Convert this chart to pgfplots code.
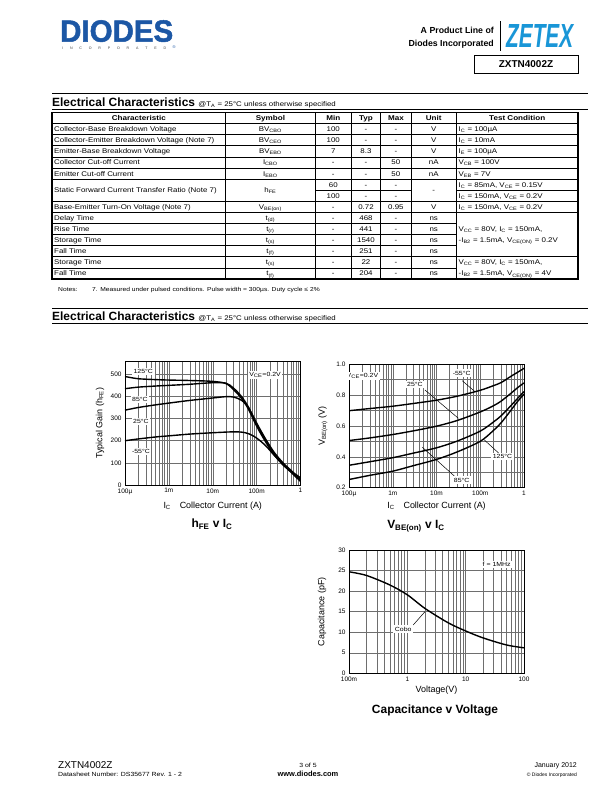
\documentclass[border=0pt]{standalone}
\usepackage{fontspec}
\setmainfont{Liberation Sans}
\newfontfamily\wide[FakeStretch=1.16]{Liberation Sans}
\newfontfamily\heavy[BoldFeatures={FakeBold=1.6}]{Liberation Sans}
\usepackage{graphicx}
\usepackage{pgfplots}
\pgfplotsset{compat=1.18}
\definecolor{diodesblue}{RGB}{28,87,165}
\definecolor{zetexblue}{RGB}{25,150,215}
\definecolor{gridgray}{RGB}{110,110,110}
\newcommand\fs[1]{\fontsize{#1}{#1}\selectfont}
\newcommand\tbl{\wide\fontsize{6.85}{7}\selectfont}
\newcommand\tbh{\wide\fontsize{7}{7}\selectfont\bfseries}
\pgfplotsset{
  dsaxis/.style={
    scale only axis,
    axis line style={line width=0.8pt},
    grid=both,
    major grid style={gridgray,line width=0.45pt},
    minor grid style={gridgray,line width=0.45pt},
    major tick length=0pt, minor tick length=0pt,
    tick label style={font=\fs{6.5}},
    /pgf/number format/assume math mode=true,
    label style={font=\fs{9}},
    clip=true,
  },
  crv/.style={black, line width=1.4pt, smooth, no markers},
}
\tikzset{lbl/.style={font=\wide\fs{6}, fill=white, inner sep=1.6bp}}
\pgfplotstableread{
x h125 h85 h25 hm55
1e-4 490 435 338 200
2e-4 480 442 350 208
5e-4 476 447 362 217
1e-3 474 450 370 222
3e-3 472 455 382 230
1e-2 468 462 393 236
0.02 458 460 399 239
0.03 430 437 397 240
0.045 392 400 383 239
0.065 343 352 350 232
0.1 266 275 280 212
0.16 195 202 208 178
0.25 137 143 148 135
0.4 91 96 100 92
0.63 57 61 63 55
1 28 33 22 16
}\hfetable
\pgfplotstableread{
x vm55 v25 v85 v125
1e-4 0.698 0.505 0.345 0.253
3e-4 0.712 0.522 0.368 0.280
1e-3 0.727 0.544 0.394 0.307
3e-3 0.745 0.568 0.424 0.343
1e-2 0.766 0.598 0.458 0.383
3e-2 0.792 0.635 0.502 0.432
0.1 0.830 0.690 0.566 0.500
0.2 0.860 0.730 0.625 0.570
0.3 0.880 0.760 0.665 0.620
0.5 0.920 0.810 0.730 0.700
0.7 0.945 0.845 0.775 0.755
1 0.972 0.878 0.822 0.805
}\vbetable
\pgfplotstableread{
v c
0.1 24.7
0.2 23.8
0.5 21.5
1 19.1
2 15.8
5 12.3
10 10.3
20 8.6
50 6.9
100 6.2
}\captable
\begin{document}
\begin{tikzpicture}
\path[use as bounding box, fill=white] (0,0) rectangle (612bp,-792bp);
\begin{scope}[x=1bp,y=-1bp]
% ---------- header ----------
\node[anchor=north west, inner sep=0] at (60,20) {\resizebox{113bp}{21.5bp}{\color{diodesblue}\heavy\bfseries DIODES}};
\node[anchor=base west, inner sep=0] at (62,49) {\makebox[104bp][s]{\fs{3.6}\color{black!75}I N C O R P O R A T E D}};
\node[anchor=center, inner sep=0] at (174,47) {\fs{4}\color{diodesblue}®};
\node[anchor=base east, inner sep=0] at (494,33) {\fs{8.8}\bfseries A Product Line of};
\node[anchor=base east, inner sep=0] at (494,46) {\fs{8.8}\bfseries Diodes Incorporated};
\draw[line width=0.6pt] (500,21) -- (500,51);
\node[anchor=north west, inner sep=0] at (506,24) {\resizebox{67bp}{23bp}{\color{zetexblue}\heavy\bfseries\itshape ZETEX}};
\draw[line width=1pt] (474,55.5) rectangle (578,73);
\node[anchor=mid, inner sep=0] at (526,64.5) {\fs{10}\bfseries ZXTN4002Z};
% ---------- section heading 1 ----------
\draw[line width=0.9pt] (52,93.5) -- (588,93.5);
\draw[line width=0.9pt] (52,109.5) -- (588,109.5);
\node[anchor=base west, inner sep=0] at (52,106.3) {\fs{12}\bfseries Electrical Characteristics \wide\mdseries\fs{6.8}@T\textsubscript{A} = 25°C unless otherwise specified};
% ---------- table ----------
\draw[line width=1.6pt] (52,112.4) rectangle (578,278.9);
\draw[line width=1.2pt] (52,123.5) -- (578,123.5);
\foreach \y in {134.6,145.7,156.8,167.9,179.0,201.2,212.3,256.7}
  \draw[line width=0.5pt] (52,\y) -- (578,\y);
\draw[line width=0.5pt] (315.2,190.1) -- (411,190.1);
\draw[line width=0.5pt] (456.4,190.1) -- (578,190.1);
\foreach \y in {223.4,234.5,245.6,267.8}
  \draw[line width=0.5pt] (52,\y) -- (456.4,\y);
\foreach \x in {225.6,315.2,351.4,380.7,411,456.4}
  \draw[line width=0.5pt] (\x,112.4) -- (\x,278.9);
% header row
\node[anchor=mid, font=\tbh] at (138.8,117.95) {Characteristic};
\node[anchor=mid, font=\tbh] at (270.4,117.95) {Symbol};
\node[anchor=mid, font=\tbh] at (333.3,117.95) {Min};
\node[anchor=mid, font=\tbh] at (366,117.95) {Typ};
\node[anchor=mid, font=\tbh] at (395.9,117.95) {Max};
\node[anchor=mid, font=\tbh] at (433.7,117.95) {Unit};
\node[anchor=mid, font=\tbh] at (517.2,117.95) {Test Condition};
% col 0
\begin{scope}[every node/.style={anchor=mid west, font=\tbl, inner sep=0}]
\node at (54,129.05) {Collector-Base Breakdown Voltage};
\node at (54,140.15) {Collector-Emitter Breakdown Voltage (Note 7)};
\node at (54,151.25) {Emitter-Base Breakdown Voltage};
\node at (54,162.35) {Collector Cut-off Current};
\node at (54,173.45) {Emitter Cut-off Current};
\node at (54,190.1) {Static Forward Current Transfer Ratio (Note 7)};
\node at (54,206.75) {Base-Emitter Turn-On Voltage (Note 7)};
\node at (54,217.85) {Delay Time};
\node at (54,228.95) {Rise Time};
\node at (54,240.05) {Storage Time};
\node at (54,251.15) {Fall Time};
\node at (54,262.25) {Storage Time};
\node at (54,273.35) {Fall Time};
% test condition
\node at (458.5,129.05) {I\textsubscript{C} = 100µA};
\node at (458.5,140.15) {I\textsubscript{C} = 10mA};
\node at (458.5,151.25) {I\textsubscript{E} = 100µA};
\node at (458.5,162.35) {V\textsubscript{CB} = 100V};
\node at (458.5,173.45) {V\textsubscript{EB} = 7V};
\node at (458.5,184.55) {I\textsubscript{C} = 85mA, V\textsubscript{CE} = 0.15V};
\node at (458.5,195.65) {I\textsubscript{C} = 150mA, V\textsubscript{CE} = 0.2V};
\node at (458.5,206.75) {I\textsubscript{C} = 150mA, V\textsubscript{CE} = 0.2V};
\node at (458.5,228.95) {V\textsubscript{CC} = 80V, I\textsubscript{C} = 150mA,};
\node at (458.5,240.05) {-I\textsubscript{B2} = 1.5mA, V\textsubscript{CE(ON)} = 0.2V};
\node at (458.5,262.25) {V\textsubscript{CC} = 80V, I\textsubscript{C} = 150mA,};
\node at (458.5,273.35) {-I\textsubscript{B2} = 1.5mA, V\textsubscript{CE(ON)} = 4V};
\end{scope}
\begin{scope}[every node/.style={anchor=mid, font=\tbl, inner sep=0}]
% symbols
\node at (270.4,129.05) {BV\textsubscript{CBO}};
\node at (270.4,140.15) {BV\textsubscript{CEO}};
\node at (270.4,151.25) {BV\textsubscript{EBO}};
\node at (270.4,162.35) {I\textsubscript{CBO}};
\node at (270.4,173.45) {I\textsubscript{EBO}};
\node at (270.4,190.1) {h\textsubscript{FE}};
\node at (270.4,206.75) {V\textsubscript{BE(on)}};
\node at (270.4,217.85) {t\textsubscript{(d)}};
\node at (270.4,228.95) {t\textsubscript{(r)}};
\node at (270.4,240.05) {t\textsubscript{(s)}};
\node at (270.4,251.15) {t\textsubscript{(f)}};
\node at (270.4,262.25) {t\textsubscript{(s)}};
\node at (270.4,273.35) {t\textsubscript{(f)}};
% min
\node at (333.3,129.05) {100};
\node at (333.3,140.15) {100};
\node at (333.3,151.25) {7};
\node at (333.3,162.35) {-};
\node at (333.3,173.45) {-};
\node at (333.3,184.55) {60};
\node at (333.3,195.65) {100};
\node at (333.3,206.75) {-};
\node at (333.3,217.85) {-};
\node at (333.3,228.95) {-};
\node at (333.3,240.05) {-};
\node at (333.3,251.15) {-};
\node at (333.3,262.25) {-};
\node at (333.3,273.35) {-};
% typ
\node at (366,129.05) {-};
\node at (366,140.15) {-};
\node at (366,151.25) {8.3};
\node at (366,162.35) {-};
\node at (366,173.45) {-};
\node at (366,184.55) {-};
\node at (366,195.65) {-};
\node at (366,206.75) {0.72};
\node at (366,217.85) {468};
\node at (366,228.95) {441};
\node at (366,240.05) {1540};
\node at (366,251.15) {251};
\node at (366,262.25) {22};
\node at (366,273.35) {204};
% max
\node at (395.9,129.05) {-};
\node at (395.9,140.15) {-};
\node at (395.9,151.25) {-};
\node at (395.9,162.35) {50};
\node at (395.9,173.45) {50};
\node at (395.9,184.55) {-};
\node at (395.9,195.65) {-};
\node at (395.9,206.75) {0.95};
\node at (395.9,217.85) {-};
\node at (395.9,228.95) {-};
\node at (395.9,240.05) {-};
\node at (395.9,251.15) {-};
\node at (395.9,262.25) {-};
\node at (395.9,273.35) {-};
% unit
\node at (433.7,129.05) {V};
\node at (433.7,140.15) {V};
\node at (433.7,151.25) {V};
\node at (433.7,162.35) {nA};
\node at (433.7,173.45) {nA};
\node at (433.7,190.1) {-};
\node at (433.7,206.75) {V};
\node at (433.7,217.85) {ns};
\node at (433.7,228.95) {ns};
\node at (433.7,240.05) {ns};
\node at (433.7,251.15) {ns};
\node at (433.7,262.25) {ns};
\node at (433.7,273.35) {ns};
\end{scope}
\node[anchor=base west, inner sep=0] at (58,291.5) {\wide\fs{5.8}Notes:};
\node[anchor=base west, inner sep=0] at (92,291.5) {\wide\fs{5.8}7. Measured under pulsed conditions. Pulse width = 300µs. Duty cycle ≤ 2\%};
% ---------- section heading 2 ----------
\draw[line width=0.9pt] (52,308.5) -- (588,308.5);
\draw[line width=0.9pt] (52,323.5) -- (588,323.5);
\node[anchor=base west, inner sep=0] at (52,320.3) {\fs{12}\bfseries Electrical Characteristics \wide\mdseries\fs{6.8}@T\textsubscript{A} = 25°C unless otherwise specified};
% chart titles
\node[anchor=mid, inner sep=0] at (212,525) {\fs{12}\bfseries h\textsubscript{FE} v I\textsubscript{C}};
\node[anchor=mid, inner sep=0] at (416,526) {\fs{12}\bfseries V\textsubscript{BE(on)} v I\textsubscript{C}};
\node[anchor=mid, inner sep=0] at (435,711) {\fs{12}\bfseries Capacitance v Voltage};
% ---------- footer ----------
\node[anchor=base west, inner sep=0] at (58,768) {\fs{10}ZXTN4002Z};
\node[anchor=base west, inner sep=0] at (58,776.5) {\wide\fs{6}Datasheet Number: DS35677 Rev. 1 - 2};
\node[anchor=base, inner sep=0] at (308,767) {\wide\fs{6}3 of 5};
\node[anchor=base, inner sep=0] at (308,776.5) {\fs{7.5}\bfseries www.diodes.com};
\node[anchor=base east, inner sep=0] at (577,767) {\fs{7}January 2012};
\node[anchor=base east, inner sep=0] at (577,776) {\fs{5}© Diodes Incorporated};
\end{scope}
% ---------- chart 1: hFE v IC ----------
\begin{axis}[dsaxis, at={(125bp,-485bp)}, anchor=south west,
  width=175.5bp, height=124bp,
  xmode=log, xmin=1e-4, xmax=1, ymin=0, ymax=560,
  xtick={1e-4,1e-3,1e-2,1e-1,1}, xticklabels={100µ,1m,10m,100m,1},
  minor xtick={2e-4,3e-4,4e-4,5e-4,6e-4,7e-4,8e-4,9e-4,2e-3,3e-3,4e-3,5e-3,6e-3,7e-3,8e-3,9e-3,0.02,0.03,0.04,0.05,0.06,0.07,0.08,0.09,0.2,0.3,0.4,0.5,0.6,0.7,0.8,0.9},
  ytick={0,100,200,300,400,500},
  xlabel={I\textsubscript{C}\quad Collector Current (A)},
  ylabel={Typical Gain (h\textsubscript{FE})},
  xlabel style={at={(axis description cs:0.5,-0.17)}, anchor=center},
  ylabel style={at={(axis description cs:-0.142,0.5)}, anchor=center},
]
\node[lbl] at (rel axis cs:0.104,0.917) {125°C};
\node[lbl] at (rel axis cs:0.085,0.688) {85°C};
\node[lbl] at (rel axis cs:0.091,0.514) {25°C};
\node[lbl] at (rel axis cs:0.091,0.272) {-55°C};
\node[lbl] at (rel axis cs:0.798,0.887) {V\textsubscript{CE}=0.2V};
\addplot[crv] table[x=x, y=h125] {\hfetable};
\addplot[crv] table[x=x, y=h85] {\hfetable};
\addplot[crv] table[x=x, y=h25] {\hfetable};
\addplot[crv] table[x=x, y=hm55] {\hfetable};
\end{axis}
% ---------- chart 2: VBE v IC ----------
\begin{axis}[dsaxis, at={(349bp,-487.7bp)}, anchor=south west,
  width=175bp, height=123.7bp,
  xmode=log, xmin=1e-4, xmax=1, ymin=0.2, ymax=1.0,
  xtick={1e-4,1e-3,1e-2,1e-1,1}, xticklabels={100µ,1m,10m,100m,1},
  minor xtick={2e-4,3e-4,4e-4,5e-4,6e-4,7e-4,8e-4,9e-4,2e-3,3e-3,4e-3,5e-3,6e-3,7e-3,8e-3,9e-3,0.02,0.03,0.04,0.05,0.06,0.07,0.08,0.09,0.2,0.3,0.4,0.5,0.6,0.7,0.8,0.9},
  ytick={0.2,0.4,0.6,0.8,1.0}, yticklabels={0.2,0.4,0.6,0.8,1.0},
  minor ytick={0.3,0.5,0.7,0.9},
  xlabel={I\textsubscript{C}\quad Collector Current (A)},
  ylabel={V\textsubscript{BE(on)} (V)},
  xlabel style={at={(axis description cs:0.5,-0.15)}, anchor=center},
  ylabel style={at={(axis description cs:-0.149,0.5)}, anchor=center},
]
\node[lbl] at (rel axis cs:0.077,0.903) {V\textsubscript{CE}=0.2V};
\draw[line width=0.5pt] (rel axis cs:0.647,0.865) -- (rel axis cs:0.72,0.776);
\draw[line width=0.5pt] (rel axis cs:0.434,0.79) -- (rel axis cs:0.625,0.561);
\draw[line width=0.5pt] (rel axis cs:0.767,0.394) -- (rel axis cs:0.863,0.27);
\draw[line width=0.5pt] (rel axis cs:0.419,0.327) -- (rel axis cs:0.606,0.089);
\node[lbl] at (rel axis cs:0.644,0.927) {-55°C};
\node[lbl] at (rel axis cs:0.377,0.836) {25°C};
\node[lbl] at (rel axis cs:0.877,0.251) {125°C};
\node[lbl] at (rel axis cs:0.644,0.062) {85°C};
\addplot[crv] table[x=x, y=vm55] {\vbetable};
\addplot[crv] table[x=x, y=v25] {\vbetable};
\addplot[crv] table[x=x, y=v85] {\vbetable};
\addplot[crv] table[x=x, y=v125] {\vbetable};
\end{axis}
% ---------- chart 3: Capacitance ----------
\begin{axis}[dsaxis, at={(349bp,-673.3bp)}, anchor=south west,
  width=175bp, height=123.3bp,
  xmode=log, xmin=0.1, xmax=100, ymin=0, ymax=30,
  xtick={0.1,1,10,100}, xticklabels={100m,1,10,100},
  minor xtick={0.2,0.3,0.4,0.5,0.6,0.7,0.8,0.9,2,3,4,5,6,7,8,9,20,30,40,50,60,70,80,90},
  ytick={0,5,10,15,20,25,30},
  xlabel={Voltage(V)},
  ylabel={Capacitance (pF)},
  xlabel style={at={(axis description cs:0.5,-0.135)}, anchor=center},
  ylabel style={at={(axis description cs:-0.154,0.5)}, anchor=center},
]
\node[lbl] at (rel axis cs:0.844,0.884) {f = 1MHz};
\draw[line width=0.5pt] (rel axis cs:0.367,0.392) -- (rel axis cs:0.434,0.5);
\node[lbl] at (rel axis cs:0.31,0.357) {Cobo};
\addplot[crv] table[x=v, y=c] {\captable};
\end{axis}
\end{tikzpicture}
\end{document}
